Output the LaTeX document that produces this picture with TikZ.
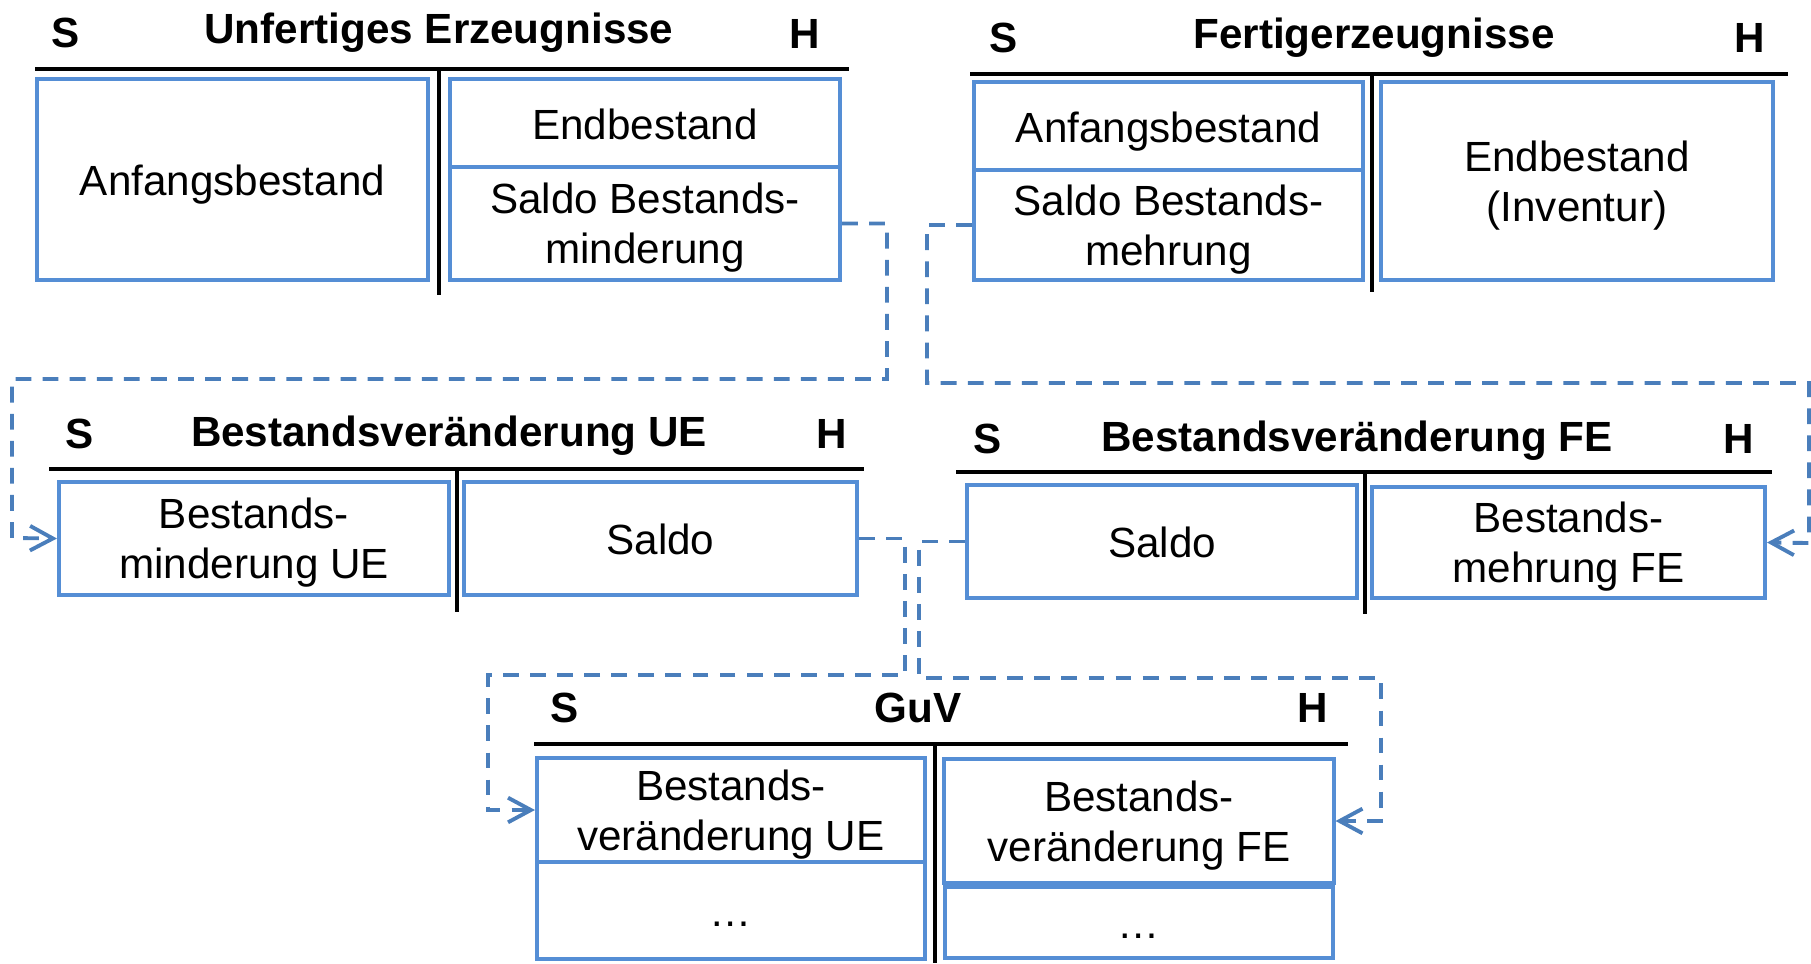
\documentclass[tikz,border=0pt]{standalone}
\usepackage{fontspec}
\setmainfont{Liberation Sans}
\usetikzlibrary{arrows.meta}
\definecolor{boxcol}{RGB}{85,142,213}
\definecolor{flowcol}{RGB}{74,126,187}

\begin{document}
\begin{tikzpicture}[x=0.01cm,y=-0.01cm,
  >={Straight Barb[length=6.5pt,width=7pt]},
  font=\fontsize{12}{14.2}\selectfont,
  konto/.style={draw=boxcol,line width=1.1pt,inner sep=0pt,align=center,
    text depth=0pt,execute at begin node={\rule{0pt}{9.2pt}}},
  tline/.style={line width=1.4pt},
  kopf/.style={anchor=base,font=\fontsize{12}{14.2}\selectfont\bfseries},
  flow/.style={draw=flowcol,line width=1.1pt,dash pattern=on 4.5pt off 3.2pt,->}]
  \useasboundingbox (0,0) rectangle (1811,963);
%%
  % Account: Unfertiges Erzeugnisse
  \draw[tline] (35,69) -- (849,69);
  \draw[tline] (439,69) -- (439,295);
  \node[kopf] (ueS) at (66,47) {S};
  \node[kopf] (ueT) at (439,43) {Unfertiges Erzeugnisse};
  \node[kopf] (ueH) at (805,48) {H};
  \node[konto,minimum width=3.91cm,minimum height=2.01cm] (ueAnf) at (232.5,179.5) {Anfangsbestand};
  \node[konto,minimum width=3.90cm,minimum height=0.88cm] (ueEnd) at (645,123) {Endbestand};
  \node[konto,minimum width=3.90cm,minimum height=1.13cm] (ueSaldo) at (645,223.5) {Saldo Bestands-\\minderung};
  % Account: Fertigerzeugnisse
  \draw[tline] (970,74) -- (1788,74);
  \draw[tline] (1372,74) -- (1372,292);
  \node[kopf] (feS) at (1004,52) {S};
  \node[kopf] (feT) at (1374,48) {Fertigerzeugnisse};
  \node[kopf] (feH) at (1750,52) {H};
  \node[konto,minimum width=3.89cm,minimum height=0.88cm] (feAnf) at (1168.5,126) {Anfangsbestand};
  \node[konto,minimum width=3.89cm,minimum height=1.10cm] (feSaldo) at (1168.5,225) {Saldo Bestands-\\mehrung};
  \node[konto,minimum width=3.92cm,minimum height=1.98cm] (feEnd) at (1577,181) {Endbestand\\(Inventur)};
  % Account: Bestandsveraenderung UE
  \draw[tline] (49,469) -- (864,469);
  \draw[tline] (457,469) -- (457,612);
  \node[kopf] (bvueS) at (80,448) {S};
  \node[kopf] (bvueT) at (449,446) {Bestandsveränderung UE};
  \node[kopf] (bvueH) at (832,448) {H};
  \node[konto,minimum width=3.90cm,minimum height=1.13cm] (bvueMind) at (254,538.5) {Bestands-\\minderung UE};
  \node[konto,minimum width=3.93cm,minimum height=1.13cm] (bvueSaldo) at (660.5,538.5) {Saldo};
  % Account: Bestandsveraenderung FE
  \draw[tline] (956,472) -- (1772,472);
  \draw[tline] (1365,472) -- (1365,614);
  \node[kopf] (bvfeS) at (988,453) {S};
  \node[kopf] (bvfeT) at (1357,451) {Bestandsveränderung FE};
  \node[kopf] (bvfeH) at (1739,453) {H};
  \node[konto,minimum width=3.90cm,minimum height=1.13cm] (bvfeSaldo) at (1162,541.5) {Saldo};
  \node[konto,minimum width=3.93cm,minimum height=1.11cm] (bvfeMehr) at (1568.5,542.5) {Bestands-\\mehrung FE};
  % Account: GuV
  \draw[tline] (534,744) -- (1348,744);
  \draw[tline] (935,744) -- (935,963);
  \node[kopf] (guvS) at (565,722) {S};
  \node[kopf] (guvT) at (918,722) {GuV};
  \node[kopf] (guvH) at (1313,722) {H};
  \node[konto,minimum width=3.88cm,minimum height=1.04cm] (guvUE) at (731,810) {Bestands-\\veränderung UE};
  \node[konto,minimum width=3.88cm,minimum height=0.97cm] (guvUEdots) at (731,910.5) {…};
  \node[konto,minimum width=3.89cm,minimum height=1.24cm] (guvFE) at (1139,821) {Bestands-\\veränderung FE};
  \node[konto,minimum width=3.88cm,minimum height=0.71cm] (guvFEdots) at (1139,922.5) {…};
%%
  % Edge: ueSaldo -> bvueMind
  \draw[flow] (ueSaldo.east) -| (887,379) -| (12,538) -- (bvueMind.west);
  % Edge: feSaldo -> bvfeMehr
  \draw[flow] (feSaldo.west) -| (927,383) -| (1809,543) -- (bvfeMehr.east);
  % Edge: bvueSaldo -> guvUE
  \draw[flow] (bvueSaldo.east) -| (905,675) -| (488,810) -- (guvUE.west);
  % Edge: bvfeSaldo -> guvFE
  \draw[flow] (bvfeSaldo.west) -| (919,678) -| (1381,821) -- (guvFE.east);
%
\end{tikzpicture}
\end{document}
